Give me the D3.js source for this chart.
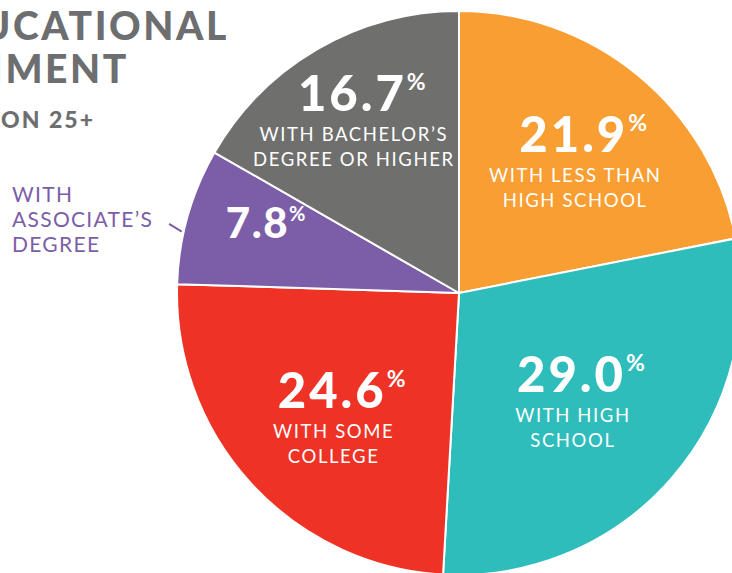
<!DOCTYPE html>
<html>
<head>
<meta charset="utf-8">
<script src="https://cdn.jsdelivr.net/npm/d3@7"></script>
<style>
  body { margin: 0; background: #fff; }
  svg { display: block; }
</style>
</head>
<body>
<svg id="chart" width="732" height="573"></svg>
<script>
// datos del grafico
var categorias = ["Less than high school", "High school", "Some college", "Associate's degree", "Bachelor's degree or higher"];
var valores = [21.9, 29.0, 24.6, 7.8, 16.7];
var etiquetas = [
  ["WITH LESS THAN", "HIGH SCHOOL"],
  ["WITH HIGH", "SCHOOL"],
  ["WITH SOME", "COLLEGE"],
  ["WITH", "ASSOCIATE\u2019S", "DEGREE"],
  ["WITH BACHELOR\u2019S", "DEGREE OR HIGHER"]
];
var colores = ["#F89E32", "#2FBDBC", "#EE3226", "#7B5EA7", "#6F6F6E"];
var titulo = ["EDUCATIONAL", "ATTAINMENT"];
var subtitulo = "POPULATION 25+";

// layout
var cx = 459, cy = 293, radio = 282;
var radioEtiqueta = [183, 151, 170, 201, 210];
var fuente = "Lato, 'Open Sans', sans-serif";

var svg = d3.select("#chart");

// titulo (cortado por la izquierda como en el original)
svg.append("text")
  .attr("x", 229).attr("y", 40)
  .attr("text-anchor", "end")
  .style("font-family", fuente).style("font-weight", 900)
  .style("font-size", "39px").style("letter-spacing", "2.6px").style("fill", "#6D6E70")
  .text(titulo[0]);
svg.append("text")
  .attr("x", 129).attr("y", 83)
  .attr("text-anchor", "end")
  .style("font-family", fuente).style("font-weight", 900)
  .style("font-size", "39px").style("letter-spacing", "2.6px").style("fill", "#6D6E70")
  .text(titulo[1]);
svg.append("text")
  .attr("x", 95).attr("y", 128)
  .attr("text-anchor", "end")
  .style("font-family", fuente).style("font-weight", 900)
  .style("font-size", "23px").style("letter-spacing", "2px").style("fill", "#6D6E70")
  .text(subtitulo);

var pie = d3.pie().sort(null).value(function(d){ return d; });
var arcos = pie(valores);

var arc = d3.arc().innerRadius(0).outerRadius(radio);

var g = svg.append("g").attr("transform", "translate(" + cx + "," + cy + ")");

g.selectAll("path.slice")
  .data(arcos)
  .enter().append("path")
  .attr("class", "slice")
  .attr("d", arc)
  .attr("fill", function(d, i){ return colores[i]; })
  .attr("stroke", "#fff")
  .attr("stroke-width", 2)
  .attr("stroke-linejoin", "round");

function polar(ang, r) {
  var a = ang * Math.PI / 180;
  return [r * Math.sin(a), -r * Math.cos(a)];
}

// etiquetas dentro de cada sector
arcos.forEach(function(d, i) {
  var mid = (d.startAngle + d.endAngle) / 2 * 180 / Math.PI;
  var p = polar(mid, radioEtiqueta[i]);
  var chico = (i === 3);

  var num = g.append("text")
    .attr("x", p[0] + (chico ? 0 : 8)).attr("y", p[1])
    .attr("text-anchor", "middle")
    .style("font-family", fuente).style("font-weight", 900)
    .style("font-size", chico ? "42px" : "49px")
    .style("letter-spacing", chico ? "1.5px" : "3px")
    .style("fill", "#fff");
  num.append("tspan").text(valores[i].toFixed(1));
  num.append("tspan")
    .attr("dy", chico ? -17 : -21)
    .style("font-size", chico ? "20px" : "23px")
    .style("font-weight", 700)
    .style("letter-spacing", "0px")
    .text("%");

  if (!chico) {
    etiquetas[i].forEach(function(linea, j) {
      g.append("text")
        .attr("x", p[0]).attr("y", p[1] + 30 + j * 25)
        .attr("text-anchor", "middle")
        .style("font-family", fuente).style("font-weight", 400)
        .style("font-size", "18.5px").style("letter-spacing", "1.6px")
        .style("fill", "#fff")
        .text(linea);
    });
  }
});

// etiqueta externa para asociado
var ini = polar(282.5, radio + 2);
var fin = polar(283.4, radio + 16);
g.append("line")
  .attr("x1", ini[0]).attr("y1", ini[1])
  .attr("x2", fin[0]).attr("y2", fin[1])
  .attr("stroke", colores[3]).attr("stroke-width", 2);

etiquetas[3].forEach(function(linea, j) {
  svg.append("text")
    .attr("x", 12).attr("y", 202 + j * 25)
    .style("font-family", fuente).style("font-weight", 400)
    .style("font-size", "21px").style("letter-spacing", "1.3px")
    .style("fill", colores[3])
    .text(linea);
});
</script>
</body>
</html>
